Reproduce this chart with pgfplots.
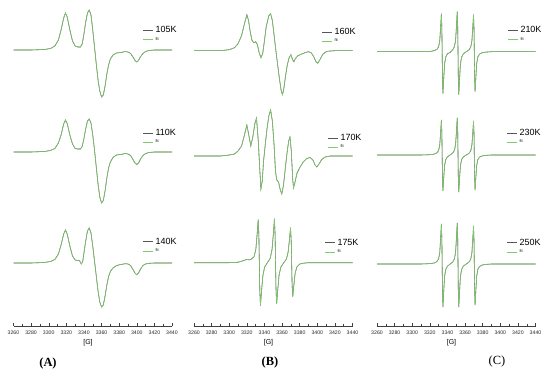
\documentclass[border=0pt]{standalone}
\usepackage{fontspec}
\setmainfont{Liberation Sans}
\newfontfamily\serifB{Liberation Serif}
\usepackage{pgfplots}
\usepackage{pgfplotstable}
\pgfplotsset{compat=1.18}
\definecolor{datgray}{RGB}{85,85,85}
\definecolor{fitgreen}{RGB}{125,205,105}

\pgfplotstableread{
x y
3260 0
3280 0
3295 0.5
3302 1.5
3307 4
3311 10
3314 20
3317 32
3319 37
3321 33
3324 20
3327 9
3330 4
3333 3
3336 3
3338 6
3340 16
3342 28
3344 37
3346 40
3348 35
3350 20
3352 3
3354 -14
3356 -30
3358 -41
3360 -47
3362 -45
3364 -36
3366 -24
3368 -15
3370 -9
3373 -5
3377 -3
3382 -2.5
3387 -1.5
3390 -2
3393 -3.5
3396 -7.5
3398 -10.5
3400 -12
3402 -10.5
3404 -7
3407 -3.5
3410 -1.5
3414 -0.5
3420 0
3440 0
}\Aone

\pgfplotstableread{
x y
3260 0
3280 0
3295 0.5
3302 1.5
3307 3.5
3311 9
3314 17
3317 28
3319 32
3321 28.5
3324 17
3327 8
3330 3.5
3333 3
3336 3
3338 5.5
3340 13.5
3342 23
3344 31
3346 33
3348 29
3350 17
3352 2
3354 -15
3356 -32
3358 -45
3360 -51
3362 -48.5
3364 -39
3366 -26
3368 -16
3370 -10
3373 -5.5
3377 -3
3382 -2.5
3387 -1.5
3390 -2
3393 -3.5
3396 -8
3398 -11
3400 -12.5
3402 -11
3404 -7.5
3407 -3.5
3410 -1.5
3414 -0.5
3420 0
3440 0
}\Atwo

\pgfplotstableread{
x y
3260 0
3280 0
3295 0.5
3302 1.5
3307 3.5
3311 9
3314 18
3317 29
3319 33
3321 29
3324 17
3327 7
3330 3
3333 2.5
3335 2.3
3337 -1
3338.5 1
3340 10
3342 22
3344 32
3346 35
3348 30
3350 17
3352 2
3354 -13
3356 -28
3358 -39
3360 -44
3362 -42
3364 -33
3366 -22
3368 -13.5
3370 -8.5
3373 -5
3377 -2.5
3382 -1.5
3387 -0.7
3390 -1
3393 -2.5
3396 -7
3398 -10
3400 -11.7
3402 -10
3404 -6.5
3407 -2.5
3410 -1
3414 -0.3
3420 0
3440 0
}\Athree

\pgfplotstableread{
x y
3260 0
3290 0
3300 1
3306 3
3310 7
3314 15
3317 26
3320 36
3322 30
3324 18
3326 10
3328 8
3330 9
3332 6
3334 -2
3336 -7
3338 -3
3340 10
3342 24
3345 35
3347 37
3349 30
3351 15
3353 0
3355 -14
3357 -28
3359 -40
3360.5 -44
3362 -38
3364 -25
3366 -14
3368 -7
3370 -4
3372 -9
3373.5 -11
3375 -8
3378 -5
3382 -3.5
3386 -2
3390 -1
3393 -2
3396 -6
3398.5 -11
3400.5 -12.5
3403 -9
3406 -4
3409 -1.5
3412 -0.5
3420 0
3440 0
}\Bone

\pgfplotstableread{
x y
3260 0
3290 0
3300 1
3306 2
3310 5
3314 10
3317 20
3320 31
3322 22
3324.5 10
3327 20
3329 32
3331 38
3333 15
3334.5 -10
3336 -33
3337.5 -25
3339 -5
3341 12
3343 28
3345 40
3347 46
3349 35
3351 10
3352.5 -15
3354 -24
3356 -26
3358 -34
3359.7 -38
3361.5 -30
3363.5 -14
3365.5 2
3367.5 15
3369 19
3370.5 5
3372 -22
3373 -32
3374.5 -27
3377 -17
3380.5 -11
3384 -6
3388 -2.5
3392 -1.5
3395 -4
3397.5 -9
3399.5 -11
3402 -8
3405 -3.5
3409 -1
3415 0
3440 0
}\Btwo

\pgfplotstableread{
x y
3260 0
3300 0
3310 0.5
3316 2
3320 3.3
3323 2.8
3325 3.5
3328.2 6
3330.2 13
3331.7 28.6
3332.93 43
3333.7 27.2
3334.2 0
3334.7 -27.2
3335.47 -43
3336.7 -28.6
3338.2 -13
3340.2 -4.4
3343.2 -0.2
3346.6 4.4
3348.6 13
3350.1 28.6
3351.33 44
3352.1 27.8
3352.6 0
3353.1 -26
3353.87 -41
3355.1 -27.3
3356.6 -12.4
3358.6 -4.5
3361.6 -0.4
3364.9 3.5
3366.9 10.6
3368.4 23.3
3369.63 35
3370.4 22.1
3370.9 0
3371.4 -21.5
3372.17 -34
3373.4 -22.6
3374.9 -10.3
3376.9 -4.1
3379.9 -1.4
3383.9 -0.5
3390 0
3440 0
}\Bthree

\pgfplotstableread{
x y
3260 0
3310 0
3321 0.4
3325 1.0
3328 2.3
3330 4.9
3331.3 11.4
3332.3 25.3
3333.13 38
3333.66 24
3334 0
3334.34 -26.5
3334.87 -42
3335.7 -28
3336.7 -12.6
3338 -5.5
3340 -2.0
3343 -0.8
3346 1.9
3348 5.2
3349.3 12
3350.3 26.6
3351.13 40
3351.66 25.3
3352 0
3352.34 -27.2
3352.87 -43
3353.7 -28.6
3354.7 -12.9
3356 -5.6
3358 -2.2
3361 -0.2
3364.5 1.8
3366.5 4.8
3367.8 11.1
3368.8 24.6
3369.63 37
3370.16 23.4
3370.5 0
3370.84 -25.3
3371.37 -40
3372.2 -26.6
3373.2 -12
3374.5 -5.2
3376.5 -2.4
3379.5 -1.0
3383.5 -0.4
3390 0
3440 0
}\Cone

\pgfplotstableread{
x y
3260 0
3310 0
3321 0.35
3325 0.9
3328 2.1
3330 4.6
3331.3 10.5
3332.3 23.3
3333.13 35
3333.66 22.1
3334 0
3334.34 -22.8
3334.87 -36
3335.7 -24
3336.7 -10.8
3338 -4.7
3340 -1.8
3343 0
3346 1.9
3348 4.8
3349.3 11.1
3350.3 24.6
3351.13 37
3351.66 23.4
3352 0
3352.34 -23.4
3352.87 -37
3353.7 -24.6
3354.7 -11.1
3356 -4.8
3358 -1.9
3361 -0.2
3364.5 1.7
3366.5 4.4
3367.8 10.2
3368.8 22.6
3369.63 34
3370.16 21.5
3370.5 0
3370.84 -22.1
3371.37 -35
3372.2 -23.3
3373.2 -10.5
3374.5 -4.6
3376.5 -2.1
3379.5 -0.9
3383.5 -0.35
3390 0
3440 0
}\Ctwo

\pgfplotstableread{
x y
3260 0
3310 0
3321 0.4
3325 1.0
3328 2.4
3330 5.2
3331.3 12
3332.3 26.6
3333.13 40
3333.66 25.3
3334 0
3334.34 -27.2
3334.87 -43
3335.7 -28.6
3336.7 -12.9
3338 -5.6
3340 -2.2
3343 -0.1
3346 2.0
3348 5.3
3349.3 12.3
3350.3 27.3
3351.13 41
3351.66 25.9
3352 0
3352.34 -27.2
3352.87 -43
3353.7 -28.6
3354.7 -12.9
3356 -5.6
3358 -2.2
3361 -0.2
3364.5 1.9
3366.5 4.9
3367.8 11.4
3368.8 25.3
3369.63 38
3370.16 24
3370.5 0
3370.84 -25.9
3371.37 -41
3372.2 -27.3
3373.2 -12.3
3374.5 -5.3
3376.5 -2.5
3379.5 -1.0
3383.5 -0.4
3390 0
3440 0
}\Cthree

\pgfplotsset{
  spec/.style={scale only axis, width=158.5bp, height=110bp,
    xmin=3260, xmax=3440, ymin=-60, ymax=50, hide axis, clip=false,
    anchor=south west,
    legend cell align=left,
    legend style={draw=none, fill=none, anchor=north west, inner sep=0pt,
      outer sep=0pt, row sep=2bp, column sep=1.5bp,
      nodes={inner sep=0.5bp},
      font=\fontsize{9}{10}\selectfont},
    legend image code/.code={\draw[##1] (0bp,0bp) -- (10bp,0bp);},
  },
  dat/.style={color=datgray, line width=0.6bp},
  fitl/.style={color=fitgreen, line width=0.55bp},
  xax/.style={scale only axis, width=158.5bp, height=10bp,
    xmin=3260, xmax=3440, ymin=0, ymax=1,
    axis x line=bottom, axis y line=none, anchor=south west,
    x axis line style={-, line width=0.45bp, color=black!75},
    every tick/.style={line width=0.4bp, color=black!75},
    xtick={3260,3280,3300,3320,3340,3360,3380,3400,3420,3440},
    xticklabels={3260,3280,3300,3320,3340,3360,3380,3400,3420,3440},
    minor x tick num=1, tick align=inside,
    major tick length=3bp, minor tick length=1.5bp,
    xticklabel style={font=\fontsize{5.2}{6}\selectfont, yshift=-1.5bp, text=black!85},
    xlabel={[G]},
    xlabel style={font=\fontsize{7}{8}\selectfont, at={(axis description cs:0.47,0)}, anchor=center, yshift=-17bp},
  },
}

\begin{document}
\begin{tikzpicture}
\useasboundingbox (0,0) rectangle (550bp,376bp);

% ---------- column A ----------
\begin{axis}[spec, at={(13.5bp,266bp)}, legend style={at={(0.817,0.762)}}]
\addplot[dat] table[x=x,y=y] {\Aone};
\addlegendentry{105K}
\addplot[fitl] table[x=x,y=y] {\Aone};
\addlegendentry{\fontsize{4}{4}\selectfont fit}
\end{axis}
\begin{axis}[spec, at={(13.5bp,164bp)}, legend style={at={(0.817,0.759)}}]
\addplot[dat] table[x=x,y=y] {\Atwo};
\addlegendentry{110K}
\addplot[fitl] table[x=x,y=y] {\Atwo};
\addlegendentry{\fontsize{4}{4}\selectfont fit}
\end{axis}
\begin{axis}[spec, at={(13.5bp,53bp)}, legend style={at={(0.817,0.778)}}]
\addplot[dat] table[x=x,y=y] {\Athree};
\addlegendentry{140K}
\addplot[fitl] table[x=x,y=y] {\Athree};
\addlegendentry{\fontsize{4}{4}\selectfont fit}
\end{axis}
\begin{axis}[xax, at={(13.5bp,50bp)}]
\end{axis}

% ---------- column B ----------
\begin{axis}[spec, at={(194bp,265.3bp)}, legend style={at={(0.808,0.754)}}]
\addplot[dat] table[x=x,y=y] {\Bone};
\addlegendentry{160K}
\addplot[fitl] table[x=x,y=y] {\Bone};
\addlegendentry{\fontsize{4}{4}\selectfont fit}
\end{axis}
\begin{axis}[spec, at={(194bp,160bp)}, legend style={at={(0.845,0.748)}}]
\addplot[dat] table[x=x,y=y] {\Btwo};
\addlegendentry{170K}
\addplot[fitl] table[x=x,y=y] {\Btwo};
\addlegendentry{\fontsize{4}{4}\selectfont fit}
\end{axis}
\begin{axis}[spec, at={(194bp,53.3bp)}, legend style={at={(0.826,0.766)}}]
\addplot[dat] table[x=x,y=y] {\Bthree};
\addlegendentry{175K}
\addplot[fitl] table[x=x,y=y] {\Bthree};
\addlegendentry{\fontsize{4}{4}\selectfont fit}
\end{axis}
\begin{axis}[xax, at={(194bp,50bp)}]
\end{axis}

% ---------- column C ----------
\begin{axis}[spec, at={(377bp,264.3bp)}, legend style={at={(0.826,0.778)}}]
\addplot[dat] table[x=x,y=y] {\Cone};
\addlegendentry{210K}
\addplot[fitl] table[x=x,y=y] {\Cone};
\addlegendentry{\fontsize{4}{4}\selectfont fit}
\end{axis}
\begin{axis}[spec, at={(377bp,161bp)}, legend style={at={(0.82,0.787)}}]
\addplot[dat] table[x=x,y=y] {\Ctwo};
\addlegendentry{230K}
\addplot[fitl] table[x=x,y=y] {\Ctwo};
\addlegendentry{\fontsize{4}{4}\selectfont fit}
\end{axis}
\begin{axis}[spec, at={(377bp,52bp)}, legend style={at={(0.82,0.778)}}]
\addplot[dat] table[x=x,y=y] {\Cthree};
\addlegendentry{250K}
\addplot[fitl] table[x=x,y=y] {\Cthree};
\addlegendentry{\fontsize{4}{4}\selectfont fit}
\end{axis}
\begin{axis}[xax, at={(377bp,50bp)}]
\end{axis}

\node[font=\serifB\bfseries\fontsize{12.5}{14}\selectfont] at (48bp,12bp) {(A)};
\node[font=\serifB\bfseries\fontsize{12.5}{14}\selectfont] at (270bp,13.3bp) {(B)};
\node[font=\serifB\fontsize{12.5}{14}\selectfont] at (497bp,14.3bp) {(C)};
\end{tikzpicture}
\end{document}
